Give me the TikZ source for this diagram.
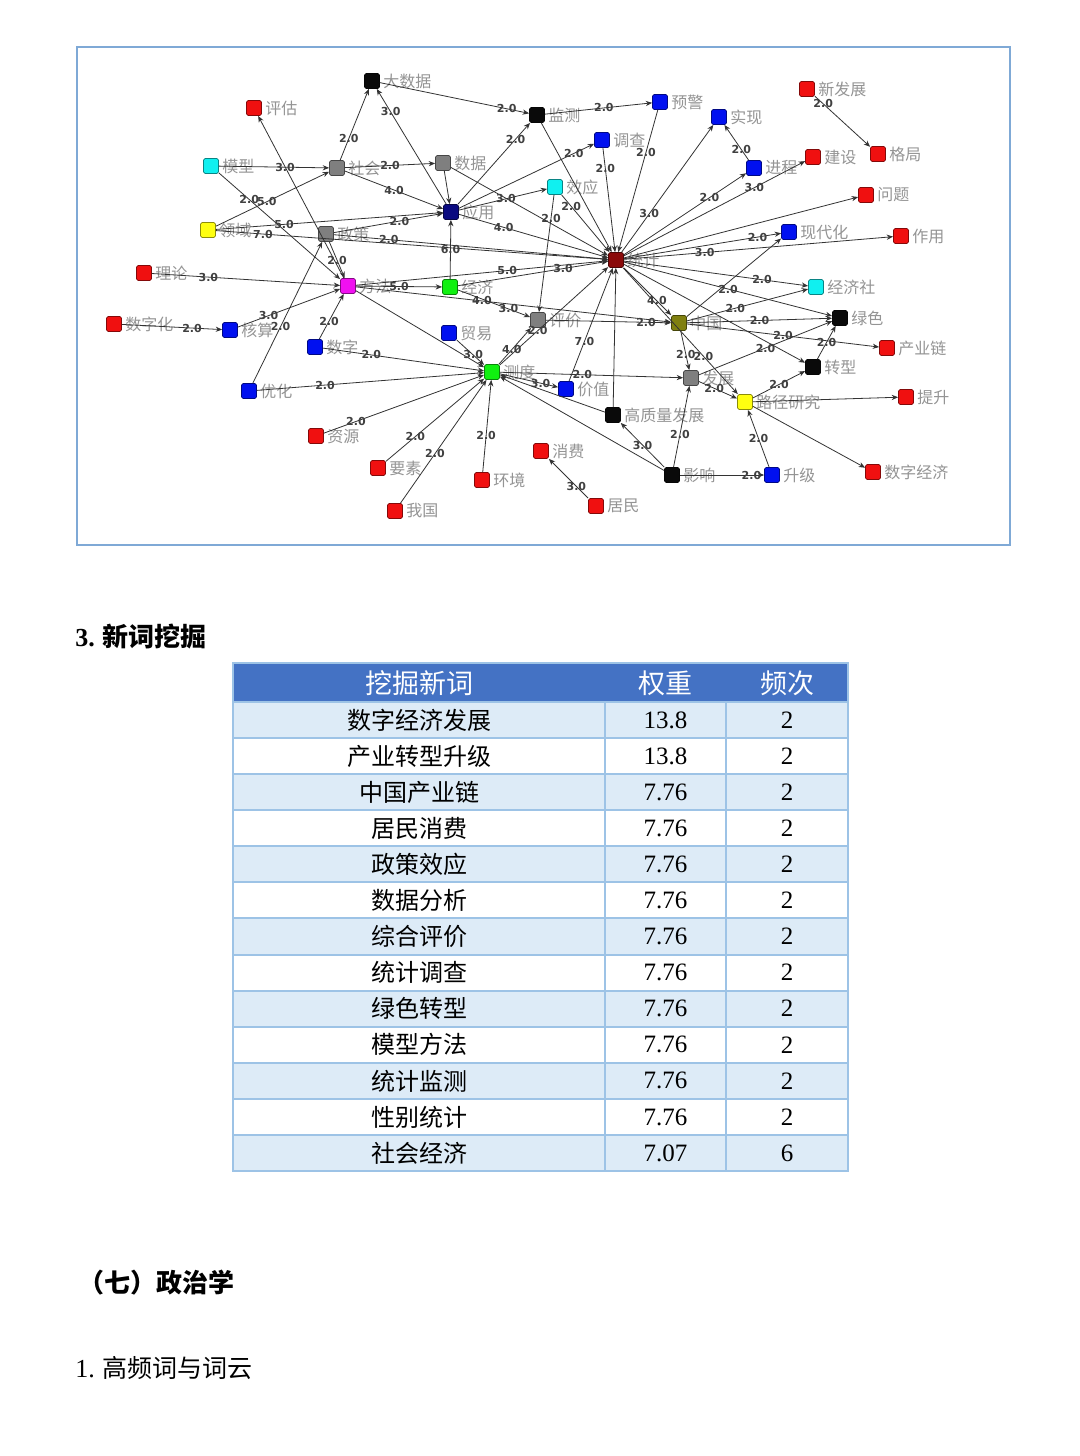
\documentclass[tikz,border=0pt]{standalone}
\usepackage{fontspec}
\setmainfont{Noto Sans CJK SC}
\newfontfamily\numfont{Liberation Serif}
\newfontfamily\wtfont{DejaVu Sans}
\usetikzlibrary{arrows.meta}
\definecolor{cred}{HTML}{F01010}
\definecolor{cblue}{HTML}{0010F0}
\definecolor{ccyan}{HTML}{10F0F0}
\definecolor{cyellow}{HTML}{FFFF10}
\definecolor{cgreen}{HTML}{10F010}
\definecolor{cmag}{HTML}{F010F0}
\definecolor{cgray}{HTML}{7F7F7F}
\definecolor{cnavy}{HTML}{0A0A80}
\definecolor{cdred}{HTML}{8A0A0A}
\definecolor{colive}{HTML}{808010}
\definecolor{cblack}{HTML}{0A0A0A}
\definecolor{frameblue}{HTML}{7FA9D6}
\definecolor{headblue}{HTML}{4472C4}
\definecolor{rowblue}{HTML}{DDEBF7}
\definecolor{gridblue}{HTML}{9DC3E6}
\tikzset{
  term/.style={draw=#1!55!black, fill=#1, minimum size=7.5pt, inner sep=0pt, rounded corners=0.8pt, line width=0.4pt},
  lbl/.style={font=\fontsize{8}{9}\selectfont, text=black!42, inner sep=0.5pt, label distance=1pt},
  link/.style={-{Stealth[length=3.2pt, width=2.6pt]}, draw=black!80, line width=0.4pt},
  wlab/.style={font=\wtfont\bfseries\fontsize{5.5}{6}\selectfont, text=black!75, inner sep=0.3pt},
  cell/.style={draw=gridblue, line width=1pt},
  heading/.style={font=\fontsize{12.5}{14}\selectfont, anchor=west, inner sep=0pt},
}
\begin{document}
\begin{tikzpicture}[x=0.5pt, y=-0.5pt]
  \useasboundingbox (0,0) rectangle (1080,1456);
  \fill[white] (0,0) rectangle (1080,1456);
  % network frame
  \draw[frameblue, line width=1pt] (77,47) rectangle (1010,545);
  % terms
  \foreach \n/\x/\y/\c/\t in {
    dsj/372/81/cblack/大数据, pg/254/108/cred/评估, jc/537/115/cblack/监测,
    yj/660/102/cblue/预警, sx/719/117/cblue/实现, xfz/807/89/cred/新发展,
    gj/878/154/cred/格局, js/813/157/cred/建设, jch/754/168/cblue/进程,
    dc/602/140/cblue/调查, mx/211/166/ccyan/模型, sh/337/168/cgray/社会,
    sj/443/163/cgray/数据, xy/555/187/ccyan/效应, yy/451/212/cnavy/应用,
    wenti/866/195/cred/问题, ly/208/230/cyellow/领域, zc/326/234/cgray/政策,
    xdh/789/232/cblue/现代化, zy/901/236/cred/作用, tj/616/260/cdred/统计,
    ll/144/273/cred/理论, ff/348/286/cmag/方法, jj/450/287/cgreen/经济,
    jjs/816/287/ccyan/经济社, szh/114/324/cred/数字化, hs/230/330/cblue/核算,
    pj/538/320/cgray/评价, zg/679/323/colive/中国, ls/840/318/cblack/绿色,
    my/449/333/cblue/贸易, sz/315/347/cblue/数字, cyl/887/348/cred/产业链,
    cd/492/372/cgreen/测度, zx/813/367/cblack/转型, yh/249/391/cblue/优化,
    jz/566/389/cblue/价值, fz/691/378/cgray/发展, ljyj/745/402/cyellow/路径研究,
    ts/906/397/cred/提升, gzl/613/415/cblack/高质量发展, zyuan/316/436/cred/资源,
    xf/541/451/cred/消费, ys/378/468/cred/要素, hj/482/480/cred/环境,
    yx/672/475/cblack/影响, sjj/772/475/cblue/升级, szjj/873/472/cred/数字经济,
    jm/596/506/cred/居民, wg/395/511/cred/我国}
    \node[term=\c, label={[lbl]right:\t}] (\n) at (\x,\y) {};
  % weighted links
  \foreach \a/\b/\w/\p in {
    sh/dsj/2.0/0.3, yy/dsj/3.0/0.8, dsj/jc/2.0/0.85, jc/yj/2.0/0.55,
    yy/jc/2.0/0.8, jc/tj//0.5, yj/tj/2.0/0.3, tj/sx/3.0/0.3,
    jch/sx/2.0/0.3, tj/jch/2.0/0.7, tj/js/3.0/0.72, xfz/gj/2.0/0.15,
    tj/wenti//0.5, tj/xdh/2.0/0.85, tj/zy/3.0/0.3, dc/tj/2.0/0.2,
    yy/dc/2.0/0.85, yy/xy//0.5, xy/pj/2.0/0.2, xy/tj/2.0/0.2,
    yy/tj/4.0/0.3, sj/yy//0.5, sj/tj/3.0/0.35, sh/sj/2.0/0.5,
    sh/yy/4.0/0.5, mx/sh/3.0/0.6, mx/ff/2.0/0.25, ly/sh/5.0/0.45,
    ly/yy/5.0/0.3, ly/tj/7.0/0.12, ff/pg//0.5, zc/ff/2.0/0.5,
    zc/yy/2.0/0.6, zc/tj/2.0/0.2, ll/ff/3.0/0.3, hs/ff/3.0/0.3,
    yh/zc/2.0/0.4, szh/hs/2.0/0.7, sz/ff/2.0/0.4, sz/cd/2.0/0.3,
    yh/cd/2.0/0.3, zyuan/cd/2.0/0.2, ys/cd/2.0/0.3, wg/cd/2.0/0.4,
    hj/cd/2.0/0.4, ff/jj/5.0/0.5, ff/tj/5.0/0.6, ff/zg/4.0/0.4,
    ff/cd//0.5, jj/yy/6.0/0.5, jj/tj/3.0/0.7, jj/pj/3.0/0.7,
    my/cd/3.0/0.6, cd/pj/4.0/0.4, cd/tj/2.0/0.35, cd/fz/2.0/0.45,
    cd/jz/3.0/0.7, jz/tj/7.0/0.35, gzl/cd//0.5, yx/cd//0.5,
    yx/gzl/3.0/0.5, yx/fz/2.0/0.4, gzl/tj//0.5, yx/sjj/2.0/0.85,
    sjj/ljyj/2.0/0.5, ljyj/ts//0.5, ljyj/szjj//0.5, ljyj/zx/2.0/0.5,
    tj/ljyj/2.0/0.7, fz/ljyj/2.0/0.4, zg/jjs/2.0/0.4, zg/ls/2.0/0.5,
    zg/cyl/2.0/0.5, zg/fz/2.0/0.6, tj/zg/4.0/0.7, tj/jjs/2.0/0.75,
    tj/ls/2.0/0.5, tj/zx//0.5, zx/ls/2.0/0.5, fz/ls/2.0/0.5,
    pj/zg/2.0/0.8, jm/xf/3.0/0.3, zg/xdh//0.5}
    \draw[link] (\a) -- node[wlab, pos=\p] {\w} (\b);
  % new-word table
  \node[heading, font=\bfseries\fontsize{13}{15}\selectfont] (h3) at (75,637) {{\numfont 3.} 新词挖掘};
  \fill[headblue] (233,663) rectangle (848,702);
  \node[font=\fontsize{13.5}{15}\selectfont, text=white] (c1) at (419,683) {挖掘新词};
  \node[font=\fontsize{13.5}{15}\selectfont, text=white] (c2) at (665.5,683) {权重};
  \node[font=\fontsize{13.5}{15}\selectfont, text=white] (c3) at (787,683) {频次};
  \foreach \w/\q/\f [count=\i] in {
    数字经济发展/13.8/2, 产业转型升级/13.8/2, 中国产业链/7.76/2,
    居民消费/7.76/2, 政策效应/7.76/2, 数据分析/7.76/2,
    综合评价/7.76/2, 统计调查/7.76/2, 绿色转型/7.76/2,
    模型方法/7.76/2, 统计监测/7.76/2, 性别统计/7.76/2,
    社会经济/7.07/6} {
    \pgfmathsetmacro\top{702+(\i-1)*36.08}
    \pgfmathsetmacro\mid{\top+18.04}
    \pgfmathparse{isodd(\i) ? "rowblue" : "white"}
    \edef\rowfill{\pgfmathresult}
    \path[fill=\rowfill] (233,\top) rectangle (848,\top+36.08);
    \draw[cell] (233,\top) rectangle (605,\top+36.08);
    \draw[cell] (605,\top) rectangle (726,\top+36.08);
    \draw[cell] (726,\top) rectangle (848,\top+36.08);
    \node[font=\fontsize{12}{14}\selectfont] (w\i) at (419,\mid) {\w};
    \node[font=\numfont\fontsize{12.5}{14}\selectfont] (q\i) at (665.5,\mid) {\q};
    \node[font=\numfont\fontsize{12.5}{14}\selectfont] (f\i) at (787,\mid) {\f};
  }
  \draw[cell] (233,663) rectangle (848,1171);
  % following headings
  \node[heading, font=\bfseries\fontsize{13}{15}\selectfont] (h7) at (78,1283) {（七）政治学};
  \node[heading] (h1) at (75,1368) {{\numfont\fontsize{13}{15}\selectfont 1.} 高频词与词云};
\end{tikzpicture}
\end{document}
